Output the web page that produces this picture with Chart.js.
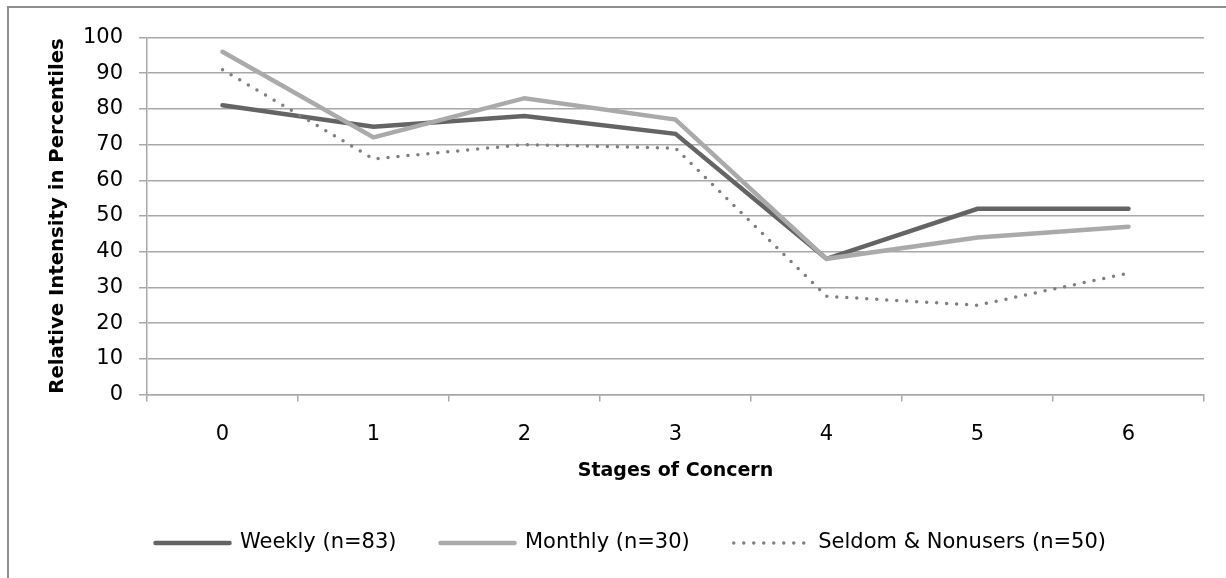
<!DOCTYPE html>
<html>
<head>
<meta charset="utf-8">
<title>Stages of Concern</title>
<script src="https://cdn.jsdelivr.net/npm/chart.js@4.4.1/dist/chart.umd.min.js"></script>
<style>
  html, body { margin: 0; padding: 0; background: #ffffff; overflow: hidden; }
  #wrap { position: relative; width: 1226px; height: 578px; }
  #frame {
    position: absolute; left: 7px; top: 6px; width: 1300px; height: 700px;
    border-left: 2px solid #8e8e8e; border-top: 2px solid #8e8e8e;
    pointer-events: none;
  }
  canvas { position: absolute; left: 0; top: 0; }
</style>
</head>
<body>
<div id="wrap">
  <canvas id="chart" width="1226" height="578"></canvas>
  <div id="frame"></div>
</div>
<script>
// Stages of Concern profile: relative intensity (percentiles) per user group
const stages = ['0', '1', '2', '3', '4', '5', '6'];
const weekly = [81, 75, 78, 73, 38, 52, 52];
const monthly = [96, 72, 83, 77, 38, 44, 47];
const seldom = [91, 66, 70, 69, 27.5, 25, 34];
const seriesNames = ['Weekly (n=83)', 'Monthly (n=30)', 'Seldom & Nonusers (n=50)'];

const FONT = '"DejaVu Sans", "Liberation Sans", sans-serif';
const GRID = '#a8a8a8';

Chart.defaults.font.family = FONT;
Chart.defaults.color = '#000000';

// Legend samples drawn as short strokes carrying each series' own line style
function lineLegendLabels(chart) {
  return chart.data.datasets.map((ds, i) => ({
    text: ds.label,
    datasetIndex: i,
    pointStyle: 'line',
    fillStyle: ds.borderColor,
    strokeStyle: ds.borderColor,
    lineWidth: ds.borderWidth,
    lineDash: ds.borderDash || [],
    lineCap: ds.borderCapStyle || 'butt',
    fontColor: '#000000',
    hidden: !chart.isDatasetVisible(i)
  }));
}

new Chart(document.getElementById('chart'), {
  type: 'line',
  data: {
    labels: stages,
    datasets: [
      {
        label: seriesNames[0], data: weekly, order: 3,
        borderColor: '#646464', backgroundColor: '#646464',
        borderWidth: 4.5, borderCapStyle: 'round', pointRadius: 0, tension: 0
      },
      {
        label: seriesNames[1], data: monthly, order: 2,
        borderColor: '#aaaaaa', backgroundColor: '#aaaaaa',
        borderWidth: 4.5, borderCapStyle: 'round', pointRadius: 0, tension: 0
      },
      {
        label: seriesNames[2], data: seldom, order: 1,
        borderColor: '#7f7f7f', backgroundColor: '#7f7f7f',
        borderWidth: 3.5, borderCapStyle: 'round', borderDash: [0, 10],
        pointRadius: 0, tension: 0
      }
    ]
  },
  options: {
    responsive: false,
    animation: false,
    devicePixelRatio: 1,
    layout: { padding: { left: 57.5, right: 22, top: 37.5, bottom: 14.5 } },
    plugins: {
      tooltip: { enabled: false },
      title: { display: false },
      legend: {
        position: 'bottom',
        align: 'center',
        labels: {
          usePointStyle: true,
          pointStyle: 'line',
          pointStyleWidth: 74,
          padding: 44,
          color: '#000000',
          font: { size: 21, family: FONT },
          generateLabels: lineLegendLabels
        }
      }
    },
    scales: {
      x: {
        type: 'category',
        offset: true,
        grid: {
          offset: true,
          drawOnChartArea: false,
          drawTicks: true,
          tickLength: 7,
          color: GRID,
          lineWidth: 1.5
        },
        border: { display: true, color: GRID, width: 1.5 },
        ticks: { padding: 20, color: '#000000', font: { size: 21, family: FONT } },
        title: {
          display: true,
          text: 'Stages of Concern',
          color: '#000000',
          font: { size: 19, weight: 'bold', family: FONT },
          padding: { top: 0, bottom: 6 }
        },
        afterFit: (scale) => { scale.height = 94; }
      },
      y: {
        min: 0,
        max: 100,
        ticks: {
          stepSize: 10,
          padding: 16,
          color: '#000000',
          font: { size: 21, family: FONT }
        },
        grid: {
          color: GRID,
          lineWidth: 1.5,
          drawTicks: true,
          tickLength: 8
        },
        border: { display: true, color: GRID, width: 1.5 },
        title: {
          display: true,
          text: 'Relative Intensity in Percentiles',
          color: '#000000',
          font: { size: 19.7, weight: 'bold', family: FONT },
          padding: { top: -11, bottom: 0 }
        },
        afterFit: (scale) => { scale.width = 89.5; }
      }
    }
  }
});
</script>
</body>
</html>
